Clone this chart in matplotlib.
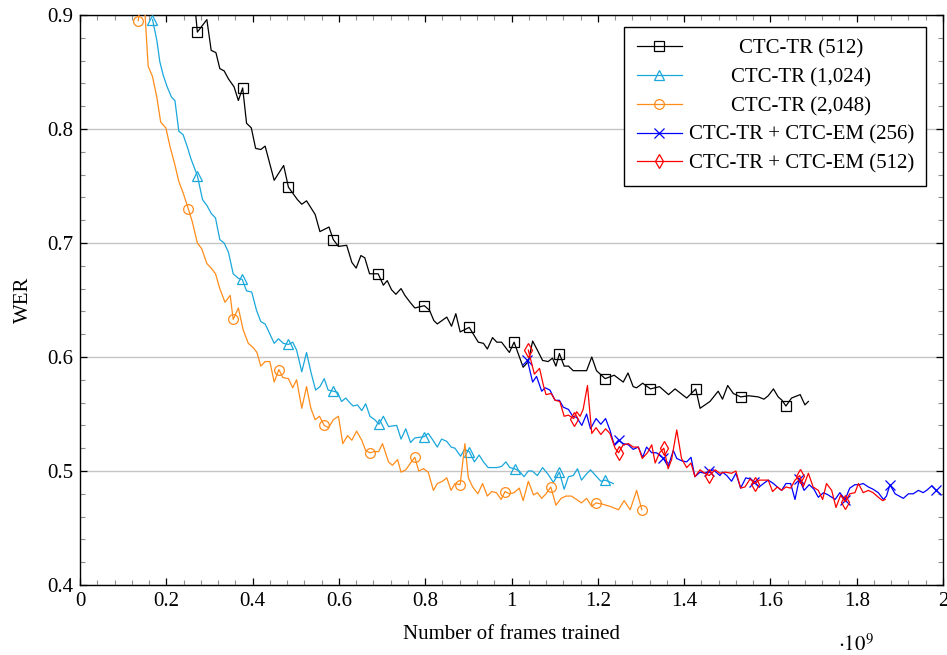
import numpy as np
import matplotlib
matplotlib.use('Agg')
from matplotlib import pyplot as plt
from matplotlib.ticker import MultipleLocator

plt.rcParams['font.family'] = 'serif'
plt.rcParams['font.serif'] = ['Liberation Serif', 'DejaVu Serif']
plt.rcParams['mathtext.fontset'] = 'stix'

# frames trained (x 1e9) and WER
tr512_x = [0.262, 0.272, 0.294, 0.304, 0.315, 0.324, 0.334, 0.344, 0.357, 0.367, 0.377, 0.386, 0.397, 0.407,
           0.419, 0.429, 0.450, 0.472, 0.483, 0.504, 0.514, 0.525, 0.545, 0.556, 0.577, 0.587, 0.599, 0.618,
           0.630, 0.640, 0.651, 0.660, 0.671, 0.691, 0.703, 0.712, 0.722, 0.732, 0.744, 0.753, 0.765, 0.776,
           0.798, 0.810, 0.820, 0.828, 0.850, 0.861, 0.871, 0.881, 0.902, 0.923, 0.935, 0.944, 0.956, 0.966,
           0.977, 0.995, 1.006, 1.027, 1.039, 1.049, 1.060, 1.072, 1.085, 1.095, 1.103, 1.111, 1.122, 1.132,
           1.143, 1.174, 1.186, 1.197, 1.217, 1.238, 1.259, 1.270, 1.282, 1.290, 1.304, 1.322, 1.343, 1.364,
           1.379, 1.406, 1.427, 1.437, 1.460, 1.479, 1.489, 1.501, 1.514, 1.531, 1.550, 1.572, 1.585, 1.595,
           1.607, 1.618, 1.627, 1.636, 1.649, 1.669, 1.680, 1.688]
tr512_y = [0.925, 0.885, 0.896, 0.869, 0.867, 0.853, 0.851, 0.844, 0.837, 0.825, 0.836, 0.805, 0.801, 0.783,
           0.782, 0.785, 0.755, 0.768, 0.749, 0.738, 0.734, 0.737, 0.725, 0.710, 0.714, 0.703, 0.697, 0.698,
           0.683, 0.678, 0.689, 0.687, 0.673, 0.673, 0.663, 0.667, 0.659, 0.655, 0.660, 0.654, 0.648, 0.643,
           0.645, 0.641, 0.632, 0.629, 0.635, 0.627, 0.638, 0.622, 0.626, 0.613, 0.612, 0.607, 0.617, 0.613,
           0.613, 0.604, 0.613, 0.591, 0.596, 0.614, 0.606, 0.597, 0.596, 0.599, 0.592, 0.603, 0.592, 0.592,
           0.588, 0.588, 0.600, 0.588, 0.581, 0.584, 0.578, 0.586, 0.574, 0.573, 0.577, 0.572, 0.574, 0.567,
           0.572, 0.564, 0.572, 0.555, 0.561, 0.570, 0.563, 0.575, 0.568, 0.565, 0.566, 0.565, 0.563, 0.566,
           0.572, 0.565, 0.562, 0.557, 0.564, 0.567, 0.558, 0.561]
tr512_marks = [0.272, 0.377, 0.483, 0.587, 0.691, 0.798, 0.902, 1.006, 1.111, 1.217, 1.322, 1.427, 1.531, 1.636]

tr1024_x = [0.168, 0.178, 0.185, 0.193, 0.202, 0.212, 0.220, 0.229, 0.239, 0.249, 0.257, 0.267, 0.272, 0.284,
            0.294, 0.304, 0.314, 0.324, 0.334, 0.344, 0.355, 0.367, 0.376, 0.386, 0.398, 0.409, 0.419, 0.429,
            0.439, 0.450, 0.460, 0.471, 0.483, 0.493, 0.502, 0.514, 0.525, 0.535, 0.546, 0.556, 0.566, 0.575,
            0.587, 0.597, 0.606, 0.616, 0.625, 0.633, 0.643, 0.653, 0.662, 0.672, 0.683, 0.693, 0.703, 0.715,
            0.734, 0.744, 0.755, 0.766, 0.776, 0.797, 0.807, 0.818, 0.828, 0.838, 0.850, 0.860, 0.869, 0.882,
            0.891, 0.902, 0.914, 0.925, 0.935, 0.946, 0.956, 0.966, 0.977, 0.987, 0.996, 1.007, 1.018, 1.029,
            1.039, 1.048, 1.060, 1.072, 1.085, 1.097, 1.111, 1.122, 1.132, 1.143, 1.153, 1.162, 1.173, 1.183,
            1.195, 1.207, 1.217, 1.236]
tr1024_y = [0.896, 0.878, 0.859, 0.847, 0.837, 0.828, 0.825, 0.798, 0.795, 0.784, 0.774, 0.764, 0.759, 0.738,
            0.733, 0.726, 0.722, 0.703, 0.700, 0.692, 0.673, 0.669, 0.668, 0.658, 0.657, 0.641, 0.631, 0.629,
            0.621, 0.612, 0.616, 0.612, 0.611, 0.613, 0.606, 0.587, 0.604, 0.587, 0.571, 0.574, 0.581, 0.571,
            0.570, 0.569, 0.561, 0.564, 0.560, 0.557, 0.558, 0.553, 0.559, 0.548, 0.545, 0.541, 0.548, 0.539,
            0.540, 0.528, 0.537, 0.525, 0.529, 0.530, 0.533, 0.527, 0.521, 0.528, 0.526, 0.521, 0.520, 0.513,
            0.519, 0.517, 0.508, 0.514, 0.508, 0.503, 0.503, 0.503, 0.504, 0.508, 0.503, 0.502, 0.500, 0.495,
            0.500, 0.500, 0.496, 0.503, 0.497, 0.490, 0.499, 0.484, 0.495, 0.496, 0.502, 0.492, 0.497, 0.501,
            0.496, 0.491, 0.492, 0.489]
tr1024_marks = [0.168, 0.272, 0.376, 0.483, 0.587, 0.693, 0.797, 0.902, 1.007, 1.111, 1.217]

tr2048_x = [0.135, 0.146, 0.158, 0.168, 0.178, 0.187, 0.199, 0.209, 0.219, 0.229, 0.239, 0.251, 0.260, 0.272,
            0.282, 0.294, 0.304, 0.314, 0.324, 0.336, 0.348, 0.355, 0.367, 0.378, 0.390, 0.402, 0.410, 0.419,
            0.429, 0.440, 0.450, 0.461, 0.470, 0.483, 0.493, 0.502, 0.514, 0.525, 0.535, 0.545, 0.555, 0.566,
            0.576, 0.587, 0.599, 0.609, 0.620, 0.630, 0.641, 0.653, 0.662, 0.672, 0.682, 0.692, 0.701, 0.715,
            0.724, 0.736, 0.744, 0.755, 0.766, 0.776, 0.785, 0.796, 0.807, 0.819, 0.828, 0.840, 0.850, 0.860,
            0.869, 0.881, 0.892, 0.900, 0.910, 0.922, 0.933, 0.944, 0.954, 0.965, 0.976, 0.985, 0.995, 1.006,
            1.018, 1.027, 1.039, 1.051, 1.060, 1.070, 1.080, 1.091, 1.103, 1.115, 1.126, 1.139, 1.151, 1.162,
            1.174, 1.186, 1.196, 1.210, 1.228, 1.248, 1.261, 1.275, 1.290, 1.302]
tr2048_y = [0.895, 0.930, 0.855, 0.846, 0.828, 0.806, 0.801, 0.784, 0.770, 0.754, 0.744, 0.730, 0.719, 0.700,
            0.695, 0.682, 0.678, 0.673, 0.660, 0.648, 0.654, 0.633, 0.643, 0.624, 0.612, 0.608, 0.604, 0.592,
            0.596, 0.596, 0.578, 0.589, 0.582, 0.581, 0.573, 0.580, 0.555, 0.574, 0.555, 0.545, 0.548, 0.540,
            0.538, 0.545, 0.548, 0.524, 0.531, 0.527, 0.535, 0.527, 0.518, 0.516, 0.517, 0.517, 0.524, 0.508,
            0.505, 0.510, 0.499, 0.501, 0.507, 0.512, 0.500, 0.502, 0.499, 0.483, 0.489, 0.491, 0.494, 0.483,
            0.489, 0.488, 0.524, 0.494, 0.486, 0.480, 0.489, 0.478, 0.482, 0.481, 0.475, 0.482, 0.480, 0.481,
            0.485, 0.474, 0.491, 0.479, 0.481, 0.476, 0.480, 0.486, 0.470, 0.476, 0.478, 0.478, 0.475, 0.472,
            0.476, 0.469, 0.472, 0.471, 0.469, 0.466, 0.474, 0.466, 0.483, 0.466]
tr2048_marks = [0.135, 0.251, 0.355, 0.461, 0.566, 0.672, 0.776, 0.881, 0.985, 1.091, 1.196, 1.302]

em256_x = [1.037, 1.049, 1.058, 1.070, 1.078, 1.089, 1.101, 1.111, 1.120, 1.132, 1.142, 1.151, 1.163, 1.174,
           1.183, 1.196, 1.207, 1.218, 1.228, 1.238, 1.248, 1.259, 1.271, 1.282, 1.294, 1.304, 1.313, 1.325,
           1.336, 1.352, 1.363, 1.375, 1.383, 1.394, 1.406, 1.416, 1.425, 1.437, 1.448, 1.458, 1.468, 1.483,
           1.489, 1.499, 1.510, 1.520, 1.531, 1.543, 1.553, 1.563, 1.574, 1.584, 1.595, 1.607, 1.616, 1.626,
           1.636, 1.647, 1.657, 1.667, 1.678, 1.690, 1.701, 1.711, 1.723, 1.734, 1.750, 1.761, 1.773, 1.784,
           1.796, 1.806, 1.815, 1.827, 1.838, 1.850, 1.862, 1.869, 1.877, 1.889, 1.908, 1.920, 1.931, 1.943,
           1.954, 1.962, 1.974, 1.984, 1.993]
em256_y = [0.597, 0.578, 0.583, 0.570, 0.573, 0.571, 0.562, 0.562, 0.556, 0.554, 0.548, 0.547, 0.540, 0.550,
           0.537, 0.546, 0.541, 0.546, 0.536, 0.523, 0.527, 0.524, 0.523, 0.519, 0.521, 0.512, 0.521, 0.516,
           0.516, 0.511, 0.504, 0.518, 0.511, 0.509, 0.508, 0.512, 0.495, 0.499, 0.498, 0.500, 0.501, 0.496,
           0.499, 0.496, 0.491, 0.498, 0.485, 0.494, 0.493, 0.490, 0.486, 0.489, 0.492, 0.489, 0.486, 0.483,
           0.489, 0.489, 0.475, 0.493, 0.483, 0.488, 0.484, 0.477, 0.481, 0.479, 0.475, 0.481, 0.475, 0.485,
           0.488, 0.488, 0.489, 0.486, 0.484, 0.481, 0.475, 0.478, 0.488, 0.480, 0.476, 0.480, 0.480, 0.483,
           0.481, 0.483, 0.487, 0.483, 0.480]
em256_marks = [1.037, 1.248, 1.352, 1.458, 1.563, 1.667, 1.773, 1.877, 1.984]

em512_x = [1.039, 1.053, 1.065, 1.074, 1.080, 1.092, 1.101, 1.112, 1.122, 1.132, 1.144, 1.151, 1.159, 1.166,
           1.176, 1.186, 1.196, 1.207, 1.218, 1.228, 1.240, 1.248, 1.259, 1.271, 1.282, 1.294, 1.303, 1.315,
           1.325, 1.333, 1.343, 1.353, 1.363, 1.371, 1.383, 1.394, 1.406, 1.416, 1.425, 1.437, 1.448, 1.458,
           1.472, 1.483, 1.495, 1.510, 1.520, 1.531, 1.541, 1.553, 1.564, 1.574, 1.584, 1.595, 1.605, 1.616,
           1.626, 1.636, 1.647, 1.657, 1.668, 1.676, 1.688, 1.699, 1.711, 1.721, 1.730, 1.742, 1.752, 1.763,
           1.773, 1.784, 1.796, 1.804, 1.815, 1.827, 1.838, 1.850, 1.860, 1.866]
em512_y = [0.606, 0.585, 0.590, 0.575, 0.567, 0.568, 0.562, 0.561, 0.548, 0.549, 0.546, 0.552, 0.548, 0.554,
           0.575, 0.533, 0.538, 0.532, 0.537, 0.533, 0.520, 0.516, 0.523, 0.524, 0.521, 0.521, 0.511, 0.516,
           0.523, 0.507, 0.516, 0.520, 0.502, 0.510, 0.536, 0.511, 0.503, 0.507, 0.495, 0.501, 0.498, 0.496,
           0.501, 0.498, 0.499, 0.498, 0.500, 0.485, 0.486, 0.493, 0.489, 0.492, 0.492, 0.492, 0.482, 0.486,
           0.483, 0.486, 0.485, 0.492, 0.496, 0.486, 0.498, 0.486, 0.483, 0.475, 0.489, 0.483, 0.468, 0.479,
           0.473, 0.480, 0.481, 0.489, 0.481, 0.483, 0.481, 0.477, 0.474, 0.475]
em512_marks = [1.039, 1.144, 1.248, 1.353, 1.458, 1.564, 1.668, 1.773]

xtick_labels = ['0', '0.2', '0.4', '0.6', '0.8', '1', '1.2', '1.4', '1.6', '1.8', '2']
ytick_labels = ['0.4', '0.5', '0.6', '0.7', '0.8', '0.9']

series = [
    (tr512_x, tr512_y, tr512_marks, 'black', 's', 'CTC-TR (512)'),
    (tr1024_x, tr1024_y, tr1024_marks, '#1aa7dc', '^', 'CTC-TR (1,024)'),
    (tr2048_x, tr2048_y, tr2048_marks, '#ff8c1a', 'o', 'CTC-TR (2,048)'),
    (em256_x, em256_y, em256_marks, '#0000ff', 'x', 'CTC-TR + CTC-EM (256)'),
    (em512_x, em512_y, em512_marks, '#ff0000', 'd', 'CTC-TR + CTC-EM (512)'),
]

fig = plt.figure(figsize=(9.47, 6.55), dpi=100)
ax = fig.add_axes([80 / 947, 1 - 585 / 655, 863 / 947, 570 / 655])

for xs, ys, marks, col, mk, lab in series:
    xs = np.array(xs)
    idx = [int(np.argmin(np.abs(xs - m))) for m in marks]
    ax.plot(xs, ys, color=col, lw=0.9, marker=mk, markevery=idx, markersize=7 if mk != 'x' else 7.5,
            markerfacecolor='none', markeredgecolor=col, markeredgewidth=0.9, label=lab, zorder=3)

ax.set_xlim(0, 2)
ax.set_ylim(0.4, 0.9)
ax.xaxis.set_minor_locator(MultipleLocator(0.04))
ax.yaxis.set_minor_locator(MultipleLocator(0.02))
ax.set_xticks(np.arange(0, 2.01, 0.2))
ax.set_xticklabels(xtick_labels)
ax.set_yticks(np.arange(0.4, 0.91, 0.1))
ax.set_yticklabels(ytick_labels)
ax.tick_params(which='both', direction='in', top=True, right=True, labelsize=15)
ax.tick_params(which='major', length=5, width=0.9, color='black', pad=5)
ax.tick_params(which='minor', length=3.5, width=0.8, color='#909090')
ax.grid(axis='y', which='major', color='#c4c4c4', lw=1.0, zorder=0)
for sp in ax.spines.values():
    sp.set_linewidth(1.0)

ax.set_xlabel('Number of frames trained', fontsize=15, labelpad=10)
ax.set_ylabel('WER', fontsize=15, labelpad=10)
ax.text(0.878, -0.105, r'$\cdot10^{9}$', transform=ax.transAxes, fontsize=15, ha='left', va='center')

leg = ax.legend(loc='upper right', bbox_to_anchor=(0.9803, 0.979), borderaxespad=0, fontsize=15,
                fancybox=False, edgecolor='black', framealpha=1, handlelength=2.2, labelspacing=0.44,
                borderpad=0.58, handletextpad=0.3)
leg.get_frame().set_linewidth(1.0)

# center the legend labels like pgfplots does
fig.canvas.draw()
texts = leg.get_texts()
widths = [t.get_window_extent().width for t in texts]
maxw = max(widths)
for t, w in zip(texts, widths):
    t.set_position(((maxw - w) / 2, 0))

fig.savefig('out.png', dpi=100)
